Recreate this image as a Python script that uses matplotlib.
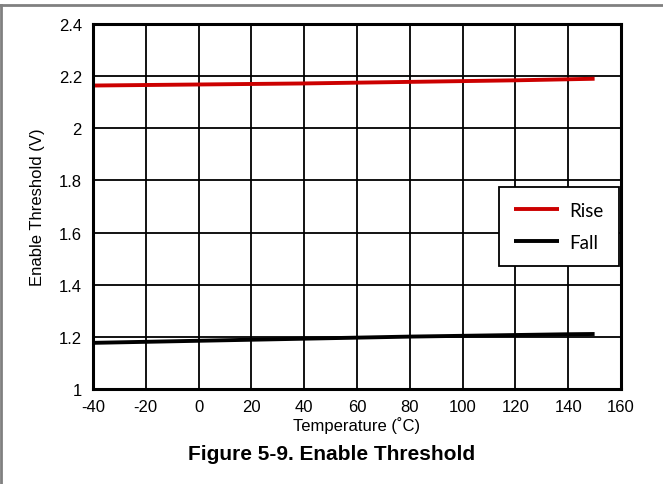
import matplotlib
matplotlib.use("Agg")
import matplotlib.pyplot as plt
from matplotlib.lines import Line2D

plt.rcParams["axes.unicode_minus"] = False

temp = [-40, -20, 0, 20, 40, 60, 80, 100, 120, 140, 150]
rise = [2.164, 2.166, 2.168, 2.170, 2.172, 2.175, 2.178, 2.181, 2.184, 2.188, 2.190]
fall = [1.177, 1.181, 1.185, 1.189, 1.193, 1.197, 1.201, 1.204, 1.207, 1.210, 1.211]
xticks = [-40, -20, 0, 20, 40, 60, 80, 100, 120, 140, 160]
yticks = [1, 1.2, 1.4, 1.6, 1.8, 2, 2.2, 2.4]
ytick_labels = ["1", "1.2", "1.4", "1.6", "1.8", "2", "2.2", "2.4"]

W, H = 663, 485
fig = plt.figure(figsize=(W/100, H/100), dpi=100)
ax = fig.add_axes([93/W, 1-390/H, (621-93)/W, (390-25)/H])

ax.plot(temp, rise, color="#cc0000", lw=2.8, label="Rise", solid_capstyle="butt")
ax.plot(temp, fall, color="black", lw=2.8, label="Fall", solid_capstyle="butt")
ax.set_xlim(-40, 160)
ax.set_ylim(1, 2.4)
ax.set_xticks(xticks)
ax.set_yticks(yticks)
ax.set_yticklabels(ytick_labels)
ax.grid(True, color="black", lw=1.3)
ax.tick_params(axis="x", length=0, labelsize=12, pad=7)
ax.tick_params(axis="y", length=0, labelsize=12, pad=8)
for s in ax.spines.values():
    s.set_linewidth(2.2)
ax.set_xlabel("Temperature (˚C)", fontsize=12, labelpad=2)
ax.set_ylabel("Enable Threshold (V)", fontsize=12, labelpad=10)
for lbl in ax.get_xticklabels() + ax.get_yticklabels():
    lbl.set_family("Liberation Sans")
ax.xaxis.label.set_family("Liberation Sans")
ax.yaxis.label.set_family("Liberation Sans")

leg = ax.legend(loc="upper left", bbox_to_anchor=((499-93)/(621-93), (390-188)/(390-25)),
                frameon=True, fancybox=False, edgecolor="black", framealpha=1,
                prop={"family": "Lato", "size": 13.5}, handlelength=2.4, borderpad=0.8,
                labelspacing=0.8, handletextpad=0.55, borderaxespad=0)
leg.get_frame().set_linewidth(1.3)

fig.text(332/W, 1-455/H, "Figure 5-9. Enable Threshold", ha="center", va="center",
         fontsize=15, fontweight="bold", family="Liberation Sans")

fig.add_artist(Line2D([0, 1], [1-5.5/H, 1-5.5/H], color="#808080", lw=2, transform=fig.transFigure))
fig.add_artist(Line2D([0.5/W, 0.5/W], [0, 1-5.5/H], color="#808080", lw=2, transform=fig.transFigure))

fig.savefig("out.png", dpi=100)
